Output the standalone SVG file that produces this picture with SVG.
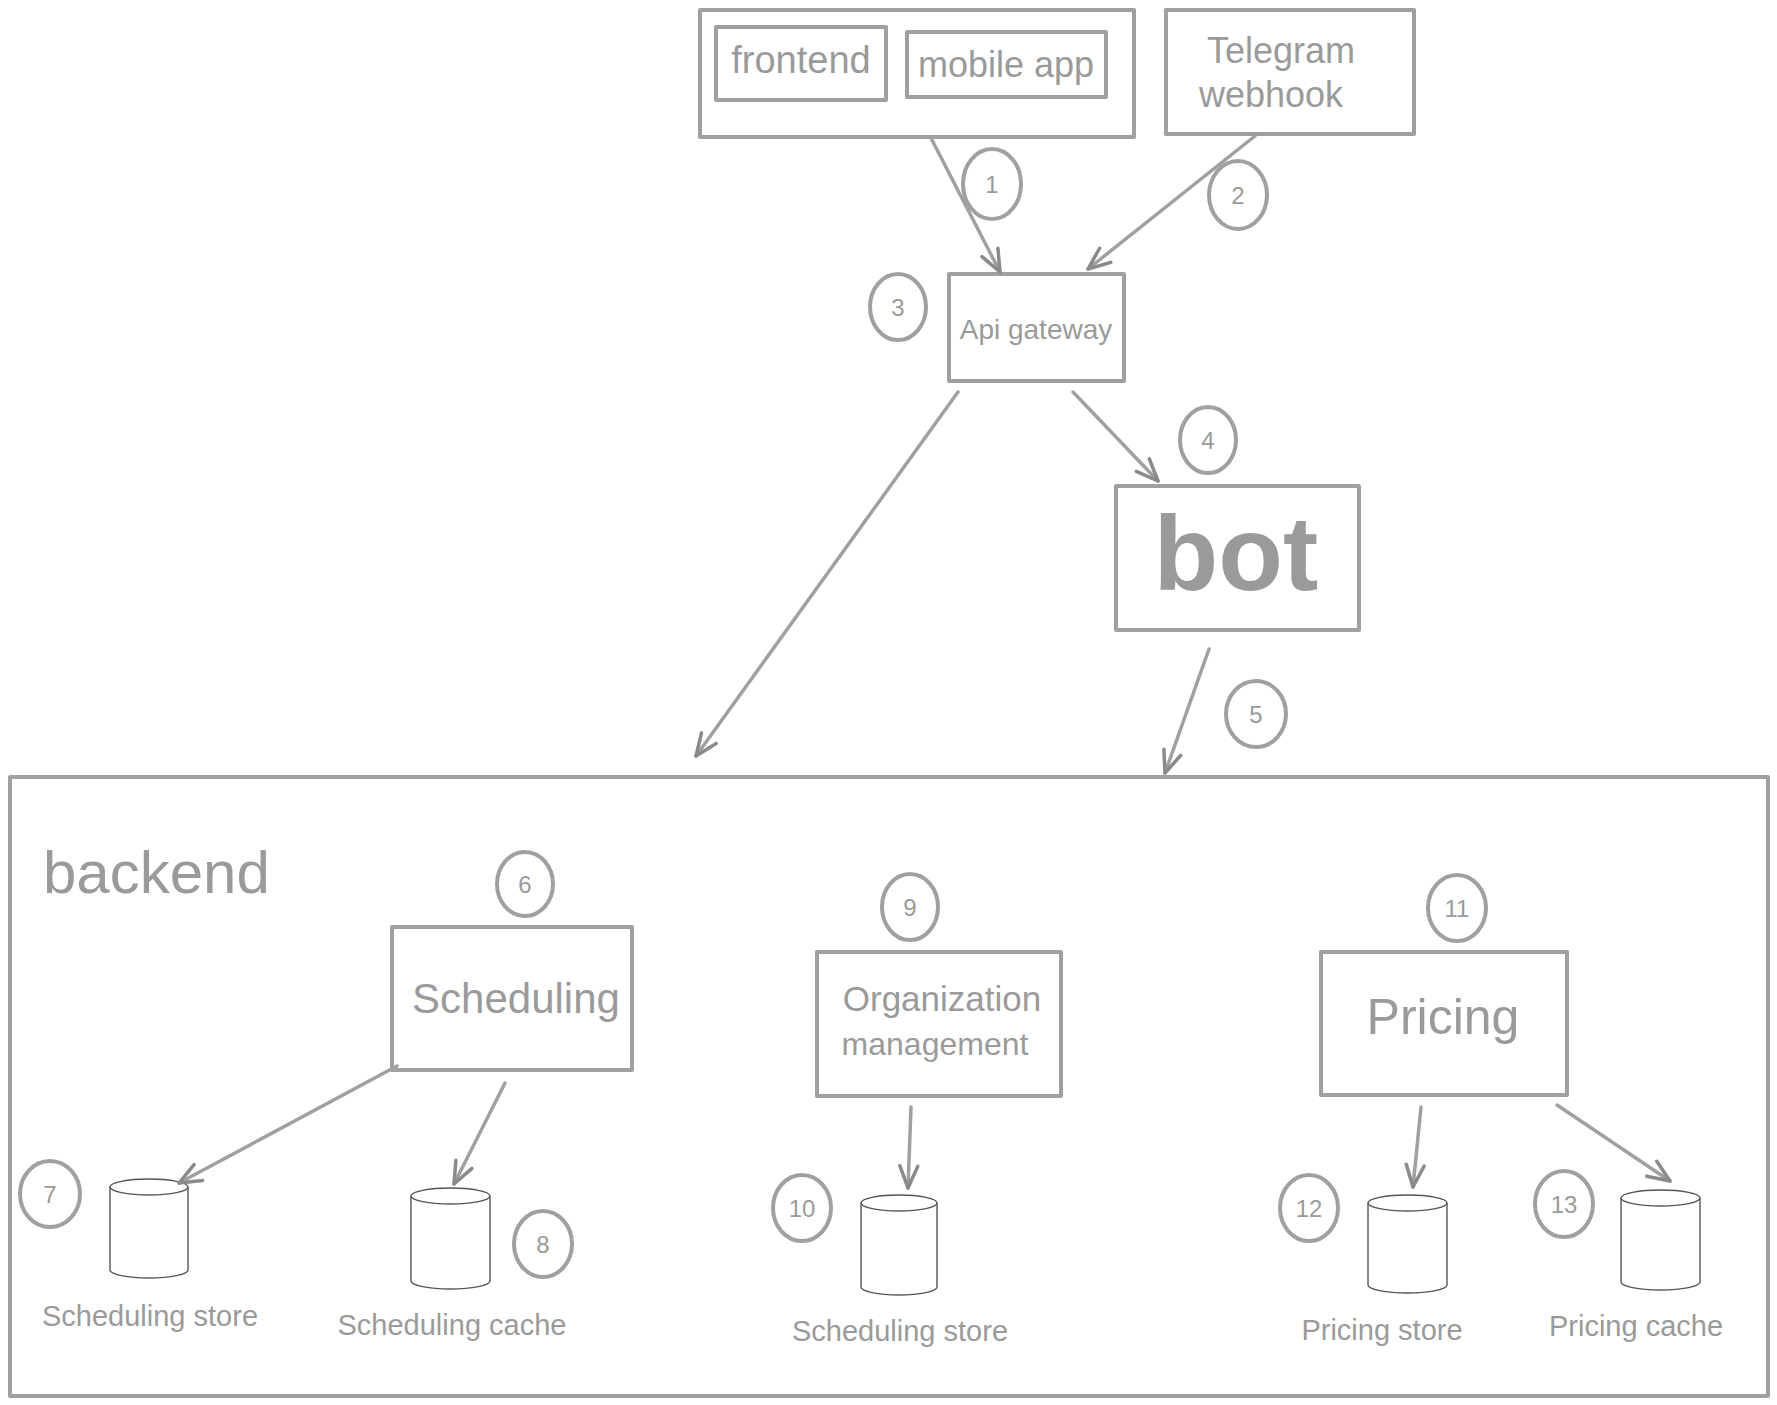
<svg xmlns="http://www.w3.org/2000/svg" width="1777" height="1405" viewBox="0 0 1777 1405">
<style>
.box{fill:none;stroke:#a0a0a0;stroke-width:4;stroke-linejoin:round}
.num{fill:none;stroke:#a0a0a0;stroke-width:4}
.cyl{fill:#fff;stroke:#555;stroke-width:1.4}
.t{font-family:"Liberation Sans",Arial,sans-serif;fill:#9a9a9a;text-anchor:middle}
.n{font-family:"Liberation Sans",Arial,sans-serif;fill:#9a9a9a;text-anchor:middle;font-size:24px}
.c{fill:none;stroke:#a0a0a0;stroke-width:3.5;stroke-linecap:round}
</style>
<defs>
<marker id="ah" markerUnits="userSpaceOnUse" markerWidth="30" markerHeight="30" refX="24" refY="12" orient="auto" viewBox="0 0 30 24">
<path d="M2,3 L24,12 L2,21" fill="none" stroke="#8a8a8a" stroke-width="3.5" stroke-linecap="round" stroke-linejoin="round"/>
</marker>
</defs>
<rect width="1777" height="1405" fill="#fff"/>

<g id="clients">
<rect class="box" x="700" y="10" width="434" height="127"/>
</g>
<g id="frontend">
<rect class="box" x="716" y="27" width="170" height="73"/>
<text class="t" x="801" y="73" font-size="38">frontend</text>
</g>
<g id="mobile-app">
<rect class="box" x="907" y="32" width="199" height="65"/>
<text class="t" x="1006" y="77" font-size="36">mobile app</text>
</g>
<g id="telegram">
<rect class="box" x="1166" y="10" width="248" height="124"/>
<text class="t" x="1281" y="63" font-size="36">Telegram</text>
<text class="t" x="1271" y="107" font-size="36">webhook</text>
</g>
<g id="api-gateway">
<rect class="box" x="949" y="274" width="175" height="107"/>
<text class="t" x="1036" y="339" font-size="28">Api gateway</text>
</g>
<g id="bot">
<rect class="box" x="1116" y="486" width="243" height="144"/>
<text class="t" x="1236" y="590" font-size="106" font-weight="bold">bot</text>
</g>
<g id="backend">
<rect class="box" x="10" y="777" width="1758" height="619"/>
<text x="43" y="893" font-family="Liberation Sans, Arial, sans-serif" font-size="60" fill="#9a9a9a">backend</text>
</g>
<g id="scheduling">
<rect class="box" x="392" y="927" width="240" height="143"/>
<text class="t" x="516" y="1013" font-size="42">Scheduling</text>
</g>
<g id="organization">
<rect class="box" x="817" y="952" width="244" height="144"/>
<text class="t" x="942" y="1011" font-size="35">Organization</text>
<text class="t" x="935" y="1055" font-size="32">management</text>
</g>
<g id="pricing">
<rect class="box" x="1321" y="952" width="246" height="143"/>
<text class="t" x="1443" y="1034" font-size="50">Pricing</text>
</g>

<g id="scheduling-store">
<path class="cyl" d="M110,1187 L110,1270 A39,8 0 0,0 188,1270 L188,1187"/>
<ellipse class="cyl" cx="149" cy="1187" rx="39" ry="8"/>
<text class="t" x="150" y="1326" font-size="29">Scheduling store</text>
</g>
<g id="scheduling-cache">
<path class="cyl" d="M411,1196 L411,1281 A39.5,8 0 0,0 490,1281 L490,1196"/>
<ellipse class="cyl" cx="450.5" cy="1196" rx="39.5" ry="8"/>
<text class="t" x="452" y="1335" font-size="29">Scheduling cache</text>
</g>
<g id="org-store">
<path class="cyl" d="M861,1203 L861,1287 A38,8 0 0,0 937,1287 L937,1203"/>
<ellipse class="cyl" cx="899" cy="1203" rx="38" ry="8"/>
<text class="t" x="900" y="1341" font-size="29">Scheduling store</text>
</g>
<g id="pricing-store">
<path class="cyl" d="M1368,1203 L1368,1285 A39.5,8 0 0,0 1447,1285 L1447,1203"/>
<ellipse class="cyl" cx="1407.5" cy="1203" rx="39.5" ry="8"/>
<text class="t" x="1382" y="1340" font-size="29">Pricing store</text>
</g>
<g id="pricing-cache">
<path class="cyl" d="M1621,1198 L1621,1282 A39.5,8 0 0,0 1700,1282 L1700,1198"/>
<ellipse class="cyl" cx="1660.5" cy="1198" rx="39.5" ry="8"/>
<text class="t" x="1636" y="1336" font-size="29">Pricing cache</text>
</g>

<g id="step-numbers">
<ellipse class="num" cx="992" cy="184" rx="29" ry="35"/><text class="n" x="992" y="193">1</text>
<ellipse class="num" cx="1238" cy="195" rx="29" ry="34"/><text class="n" x="1238" y="204">2</text>
<ellipse class="num" cx="898" cy="307" rx="28" ry="33"/><text class="n" x="898" y="316">3</text>
<ellipse class="num" cx="1208" cy="440" rx="28" ry="33"/><text class="n" x="1208" y="449">4</text>
<ellipse class="num" cx="1256" cy="714" rx="30" ry="33"/><text class="n" x="1256" y="723">5</text>
<ellipse class="num" cx="525" cy="884" rx="28" ry="32"/><text class="n" x="525" y="893">6</text>
<ellipse class="num" cx="50" cy="1194" rx="30" ry="33"/><text class="n" x="50" y="1203">7</text>
<ellipse class="num" cx="543" cy="1244" rx="29" ry="33"/><text class="n" x="543" y="1253">8</text>
<ellipse class="num" cx="910" cy="907" rx="28" ry="33"/><text class="n" x="910" y="916">9</text>
<ellipse class="num" cx="802" cy="1208" rx="29" ry="33"/><text class="n" x="802" y="1217">10</text>
<ellipse class="num" cx="1457" cy="908" rx="29" ry="33"/><text class="n" x="1457" y="917">11</text>
<ellipse class="num" cx="1309" cy="1208" rx="29" ry="33"/><text class="n" x="1309" y="1217">12</text>
<ellipse class="num" cx="1564" cy="1204" rx="29" ry="33"/><text class="n" x="1564" y="1213">13</text>
</g>

<g id="connectors">
<line class="c" x1="932" y1="140" x2="1000" y2="272" marker-end="url(#ah)"/>
<line class="c" x1="1255" y1="136" x2="1088" y2="269" marker-end="url(#ah)"/>
<line class="c" x1="958" y1="392" x2="696" y2="756" marker-end="url(#ah)"/>
<line class="c" x1="1073" y1="392" x2="1158" y2="481" marker-end="url(#ah)"/>
<line class="c" x1="1209" y1="649" x2="1165" y2="773" marker-end="url(#ah)"/>
<line class="c" x1="397" y1="1066" x2="179" y2="1183" marker-end="url(#ah)"/>
<line class="c" x1="505" y1="1083" x2="454" y2="1184" marker-end="url(#ah)"/>
<line class="c" x1="911" y1="1107" x2="908" y2="1188" marker-end="url(#ah)"/>
<line class="c" x1="1421" y1="1107" x2="1413" y2="1187" marker-end="url(#ah)"/>
<line class="c" x1="1557" y1="1105" x2="1670" y2="1181" marker-end="url(#ah)"/>
</g>
</svg>
